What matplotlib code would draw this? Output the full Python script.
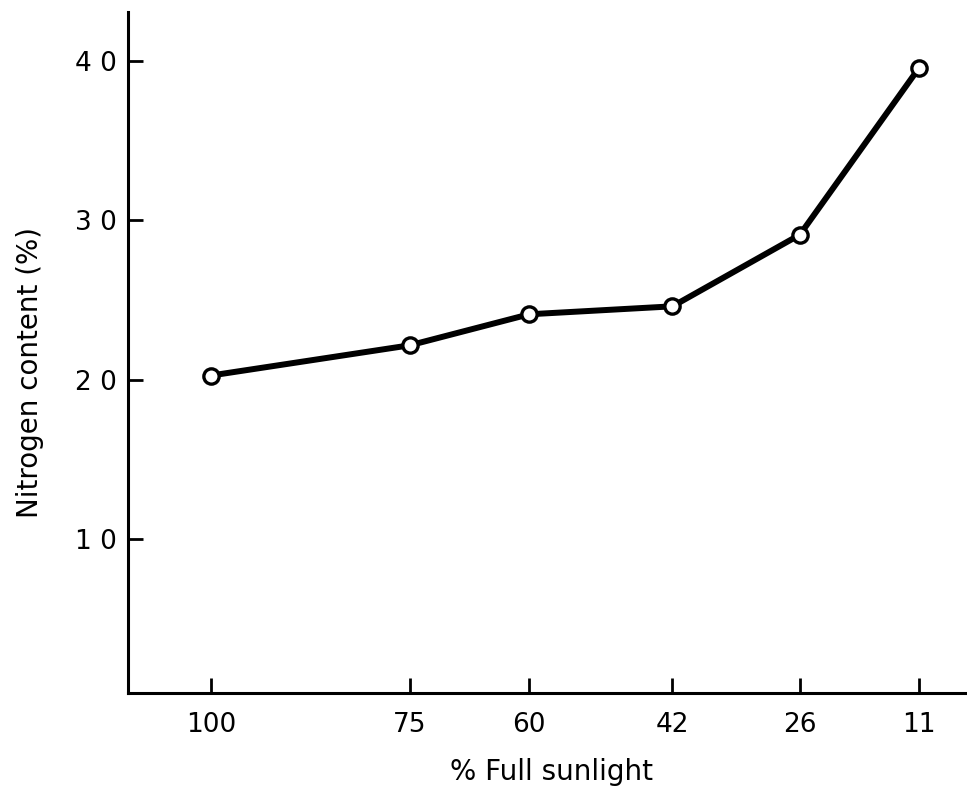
import matplotlib
matplotlib.use("Agg")
import matplotlib.pyplot as plt

# ---- data
sunlight = [100, 75, 60, 42, 26, 11]          # % full sunlight
nitrogen = [20.25, 22.15, 24.1, 24.6, 29.1, 39.6]  # nitrogen content, tick units
y_ticks = [10, 20, 30, 40]
y_labels = ["1 0", "2 0", "3 0", "4 0"]

plt.rcParams['font.family'] = ['DejaVu Sans']

fig = plt.figure(figsize=(9.67, 7.96), dpi=100)
ax = fig.add_axes([0.1324, 0.1294, 0.8676, 0.8556])

ax.plot(sunlight, nitrogen, color='black', lw=4.3, solid_capstyle='round',
        marker='o', ms=11, mfc='white', mec='black', mew=2.4, zorder=3)

ax.set_xlim(110.4, 5)
ax.set_ylim(0.3, 43.1)
ax.set_xticks(sunlight)
ax.set_xticklabels([str(v) for v in sunlight])
ax.set_yticks(y_ticks)
ax.set_yticklabels(y_labels)

for s in ('top', 'right'):
    ax.spines[s].set_visible(False)
for s in ('left', 'bottom'):
    ax.spines[s].set_linewidth(2.2)

ax.tick_params(axis='both', direction='in', length=11, width=2, labelsize=19)
ax.tick_params(axis='x', pad=14)
ax.tick_params(axis='y', pad=8)

ax.set_xlabel("% Full sunlight", fontsize=20)
ax.set_ylabel("Nitrogen content (%)", fontsize=20)
ax.xaxis.set_label_coords(0.505, -0.095)
ax.yaxis.set_label_coords(-0.10, 0.47)

fig.savefig("out.png", dpi=100)
